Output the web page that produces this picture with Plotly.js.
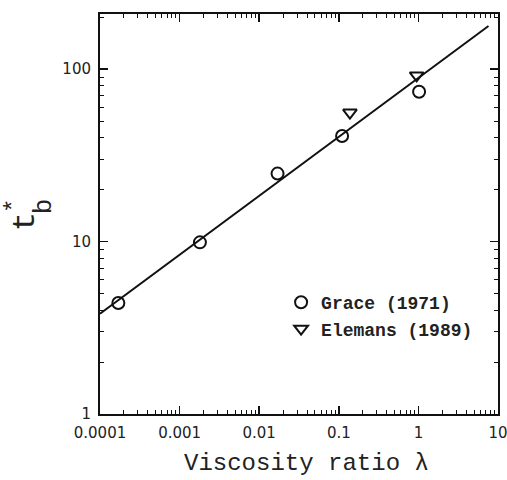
<!DOCTYPE html>
<html>
<head>
<meta charset="utf-8">
<script src="https://cdn.plot.ly/plotly-3.0.1.min.js"></script>
<style>html,body{margin:0;padding:0;background:#fff;}#chart{width:507px;height:480px;}</style>
</head>
<body>
<div id="chart"></div>
<script>
// Grace (1971)
const graceX = [0.00017, 0.0018, 0.017, 0.11, 1.02];
const graceY = [4.4, 9.9, 24.8, 41, 74];
// Elemans (1989)
const elemansX = [0.138, 0.95];
const elemansY = [56, 92];
// fitted line
const fitX = [0.0001, 7.6];
const fitY = [3.82, 178];
const xTickVals = [0.0001, 0.001, 0.01, 0.1, 1, 10];
const xTickText = ["0.0001", "0.001", "0.01", "0.1", "1", "10"];
const yTickVals = [1, 10, 100];
const yTickText = ["1", "10", "100"];

const monoFont = "Liberation Mono, Courier New, monospace";
const sansFont = "DejaVu Sans, Arial, sans-serif";

const traces = [
  {x: fitX, y: fitY, mode: "lines", line: {color: "#111", width: 2}, showlegend: false, hoverinfo: "skip"},
  {x: graceX, y: graceY, mode: "markers", name: "Grace (1971)",
   marker: {symbol: "circle-open", size: 12, color: "#111", line: {width: 2, color: "#111"}}},
  {x: elemansX, y: elemansY, mode: "markers", name: "Elemans (1989)",
   marker: {symbol: "triangle-down-open", size: 12, color: "#111", line: {width: 2, color: "#111"}}}
];

const axisCommon = {
  showgrid: false, zeroline: false, showline: true, linecolor: "#111", linewidth: 2,
  ticks: "inside", ticklen: 8, tickwidth: 1.5, tickcolor: "#111", mirror: "allticks",
  tickfont: {family: sansFont, size: 15, color: "#222"}, ticklabeloverflow: "allow",
  minor: {ticks: "inside", ticklen: 4, tickwidth: 1, tickcolor: "#111", dtick: "D1"}
};

const layout = {
  width: 507, height: 480,
  margin: {l: 100, r: 9, t: 14, b: 66},
  paper_bgcolor: "#fff", plot_bgcolor: "#fff",
  xaxis: Object.assign({}, axisCommon, {
    type: "log", range: [-4, 1], tickvals: xTickVals, ticktext: xTickText, ticklabelstandoff: 4
  }),
  yaxis: Object.assign({}, axisCommon, {
    type: "log", range: [0, 2.32], tickvals: yTickVals, ticktext: yTickText, ticklabelstandoff: 4
  }),
  legend: {
    x: 0.455, y: 0.246, xanchor: "left", yanchor: "middle",
    bgcolor: "rgba(0,0,0,0)", borderwidth: 0,
    font: {family: monoFont, size: 18, color: "#222", weight: "bold"}
  },
  annotations: [
    {xref: "paper", yref: "paper", x: 0.52, y: -0.123, xanchor: "center", yanchor: "middle",
     text: "Viscosity ratio λ", showarrow: false, font: {family: monoFont, size: 24, color: "#222"}},
    {xref: "paper", yref: "paper", x: -0.188, y: 0.48, xanchor: "center", yanchor: "middle",
     text: "t", textangle: -90, showarrow: false, font: {family: monoFont, size: 32, color: "#222"}},
    {xref: "paper", yref: "paper", x: -0.216, y: 0.52, xanchor: "center", yanchor: "middle",
     text: "*", textangle: -90, showarrow: false, font: {family: monoFont, size: 24, color: "#222"}},
    {xref: "paper", yref: "paper", x: -0.14, y: 0.52, xanchor: "center", yanchor: "middle",
     text: "b", textangle: -90, showarrow: false, font: {family: monoFont, size: 26, color: "#222"}}
  ]
};

Plotly.newPlot("chart", traces, layout, {staticPlot: true, displayModeBar: false});
</script>
</body>
</html>
